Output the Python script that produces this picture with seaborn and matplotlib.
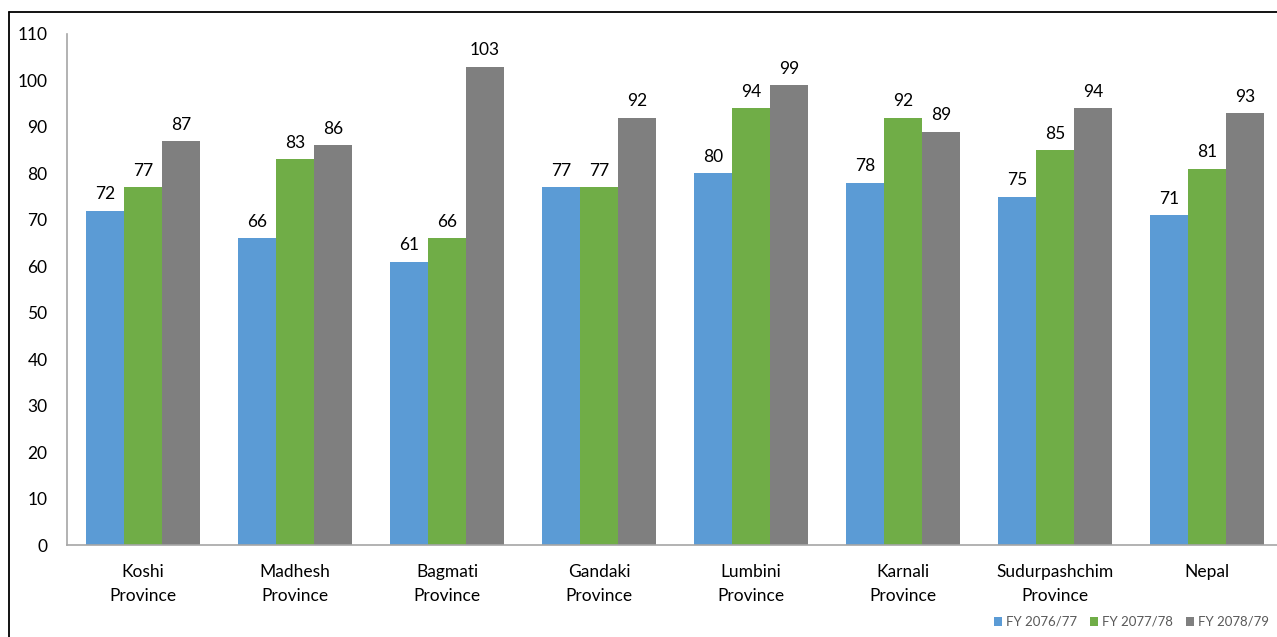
import matplotlib
matplotlib.use("Agg")
import matplotlib.pyplot as plt
from matplotlib.lines import Line2D
from matplotlib.patches import Patch
import pandas as pd
import seaborn as sns

provinces = ["Koshi\nProvince", "Madhesh\nProvince", "Bagmati\nProvince", "Gandaki\nProvince",
             "Lumbini\nProvince", "Karnali\nProvince", "Sudurpashchim\nProvince", "Nepal"]
years = ["FY 2076/77", "FY 2077/78", "FY 2078/79"]
fy_2076_77 = [72, 66, 61, 77, 80, 78, 75, 71]
fy_2077_78 = [77, 83, 66, 77, 94, 92, 85, 81]
fy_2078_79 = [87, 86, 103, 92, 99, 89, 94, 93]
colors = ["#5B9BD5", "#70AD47", "#7F7F7F"]
y_ticks = list(range(0, 111, 10))

df = pd.DataFrame({
    "province": provinces * 3,
    "year": [years[0]] * 8 + [years[1]] * 8 + [years[2]] * 8,
    "value": fy_2076_77 + fy_2077_78 + fy_2078_79,
})

sns.set_theme(style="white")
plt.rcParams["font.family"] = ["Lato", "DejaVu Sans"]

W, H = 1277, 637
fig = plt.figure(figsize=(W / 100, H / 100), dpi=100)
ax = fig.add_axes([67 / W, (H - 545) / H, (1283 - 67) / W, (545 - 34) / H])

sns.barplot(data=df, x="province", y="value", hue="year", palette=colors,
            width=0.75, saturation=1, linewidth=0, ax=ax, legend=False)

for cont in ax.containers:
    ax.bar_label(cont, fmt="%d", padding=6, fontsize=12.5, color="#000000")

ax.set_ylim(0, 110)
ax.set_xlim(-0.5, 7.5)
ax.set_yticks(y_ticks)
ax.tick_params(axis="y", length=0, pad=14, labelsize=12.5, labelcolor="#000000")
ax.tick_params(axis="x", length=0, pad=14, labelsize=12.5, labelcolor="#000000")
for lbl in ax.get_xticklabels():
    lbl.set_linespacing(1.55)
ax.set_xlabel("")
ax.set_ylabel("")
for side in ["top", "right"]:
    ax.spines[side].set_visible(False)
for side in ["left", "bottom"]:
    ax.spines[side].set_color("#A6A6A6")
    ax.spines[side].set_linewidth(1.2)

handles = [Patch(facecolor=c, edgecolor="none") for c in colors]
fig.legend(handles, years, loc="center right", bbox_to_anchor=(1.0, (H - 622) / H),
           ncol=3, frameon=False, fontsize=9.5, labelcolor="#595959",
           handlelength=0.6, handleheight=0.6, handletextpad=0.3, columnspacing=1.0,
           borderaxespad=0.2)

# outer chart frame
fig.add_artist(Line2D([9 / W, 1.01], [(H - 12) / H, (H - 12) / H], color="black",
                      linewidth=1.3, transform=fig.transFigure))
fig.add_artist(Line2D([9 / W, 9 / W], [(H - 12) / H, -0.01], color="black",
                      linewidth=1.3, transform=fig.transFigure))

fig.savefig("out.png", dpi=100)
